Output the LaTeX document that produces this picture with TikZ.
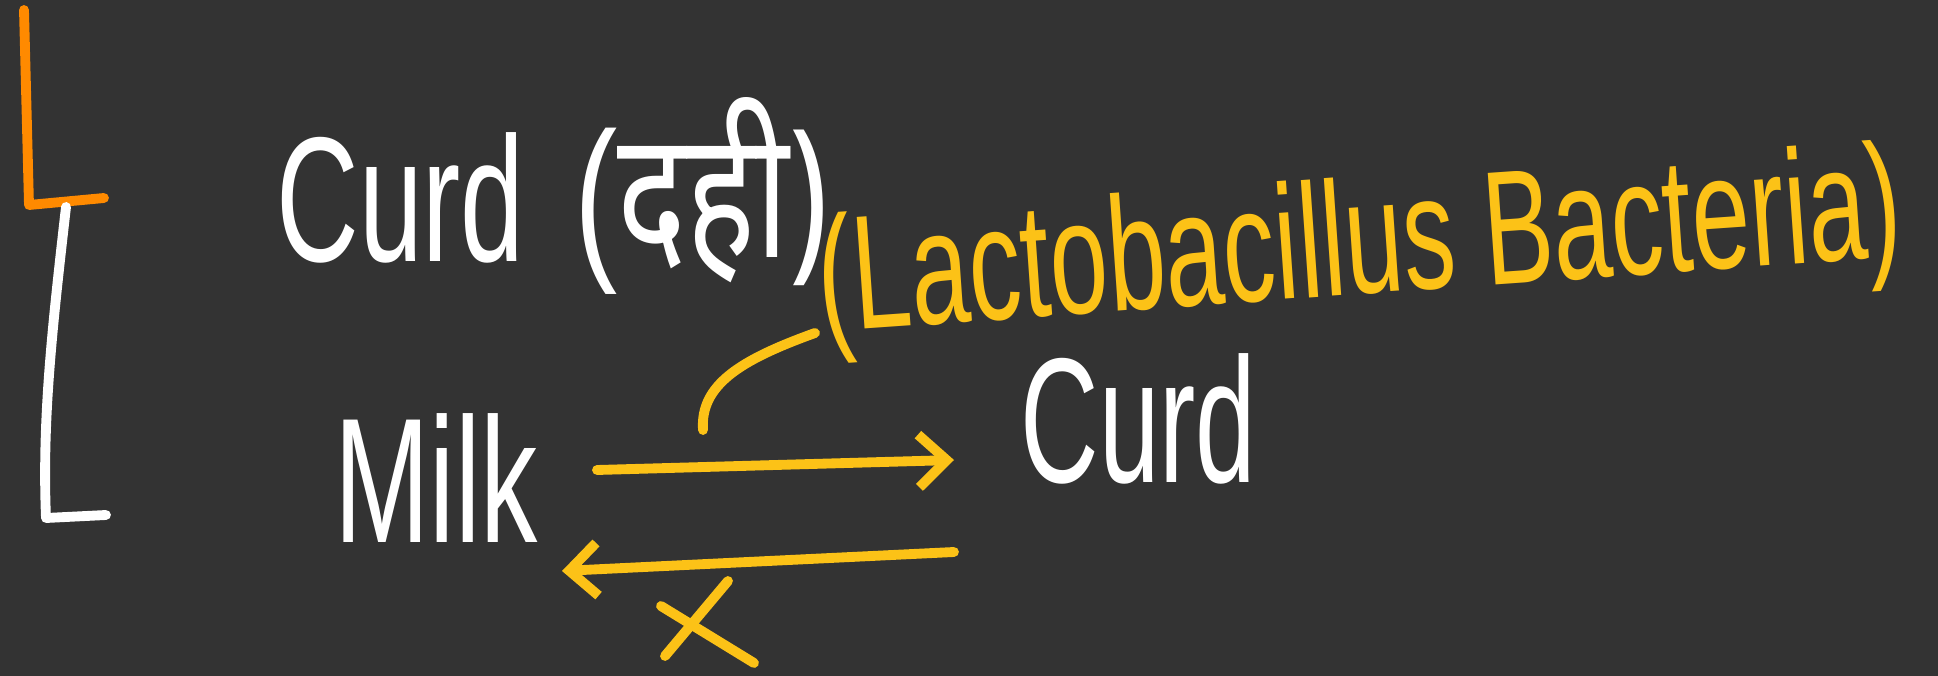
\documentclass[tikz,border=0pt]{standalone}
\usepackage{fontspec}
\setmainfont{Liberation Sans}
\newfontfamily\devfont[Script=Devanagari]{Noto Sans}
\usetikzlibrary{arrows.meta}
\definecolor{bg}{HTML}{333333}
\definecolor{ink}{HTML}{FFFFFF}
\definecolor{hl}{HTML}{FCC217}
\definecolor{org}{HTML}{FF8A00}
\tikzset{
  pen/.style={line width=2.8pt, line cap=round, line join=round},
  wtxt/.style={text=ink, inner sep=0pt, font=\fontsize{44}{50}\selectfont, xscale=0.74, yscale=1.15},
  ytxt/.style={text=hl, inner sep=0pt, font=\fontsize{33}{40}\selectfont, xscale=0.9, yscale=1.4},
  tip/.style={-{Straight Barb[length=8pt,width=15pt,line width=2.8pt]}}
}
\begin{document}
\begin{tikzpicture}[x=0.01cm,y=-0.01cm]
\fill[bg] (0,0) rectangle (1938,676);
\useasboundingbox (0,0) rectangle (1938,676);
% brackets
\draw[pen, org] (24,10) -- (29,205) -- (104,198);
\draw[pen, ink] (66,207) .. controls (52,330) and (42,420) .. (46,518) -- (106,515);
% texts
\node[wtxt, anchor=base west] (curdh) at (276,262) {Curd};
\node[wtxt, anchor=base west, xscale=1.04, yscale=0.92, font=\fontsize{48}{54}\selectfont] (dahi) at (574,258) {(\devfont दही)};
\node[rotate=4, ytxt] (lacto) at (1360,252) {(Lactobacillus Bacteria)};
\node[wtxt, anchor=base west] (milk) at (334,543) {Milk};
\node[wtxt, anchor=base west, xscale=0.95] (curd) at (1020,482) {Curd};
% arrows
\coordinate (f1) at (597,470);
\coordinate (f2) at (954,460);
\coordinate (b1) at (954,552);
\coordinate (b2) at (562,571);
\draw[pen, hl, tip] (f1) -- (f2);
\draw[pen, hl, tip] (b1) -- (b2);
% curve to label
\coordinate (c1) at (703,430);
\coordinate (c2) at (815,333);
\draw[pen, hl] (c1) .. controls (700,385) and (740,360) .. (c2);
% cross
\coordinate (x1) at (665,656);
\coordinate (x2) at (728,581);
\coordinate (x3) at (661,606);
\coordinate (x4) at (754,663);
\draw[pen, hl] (x1) -- (x2);
\draw[pen, hl] (x3) -- (x4);
\end{tikzpicture}
\end{document}
